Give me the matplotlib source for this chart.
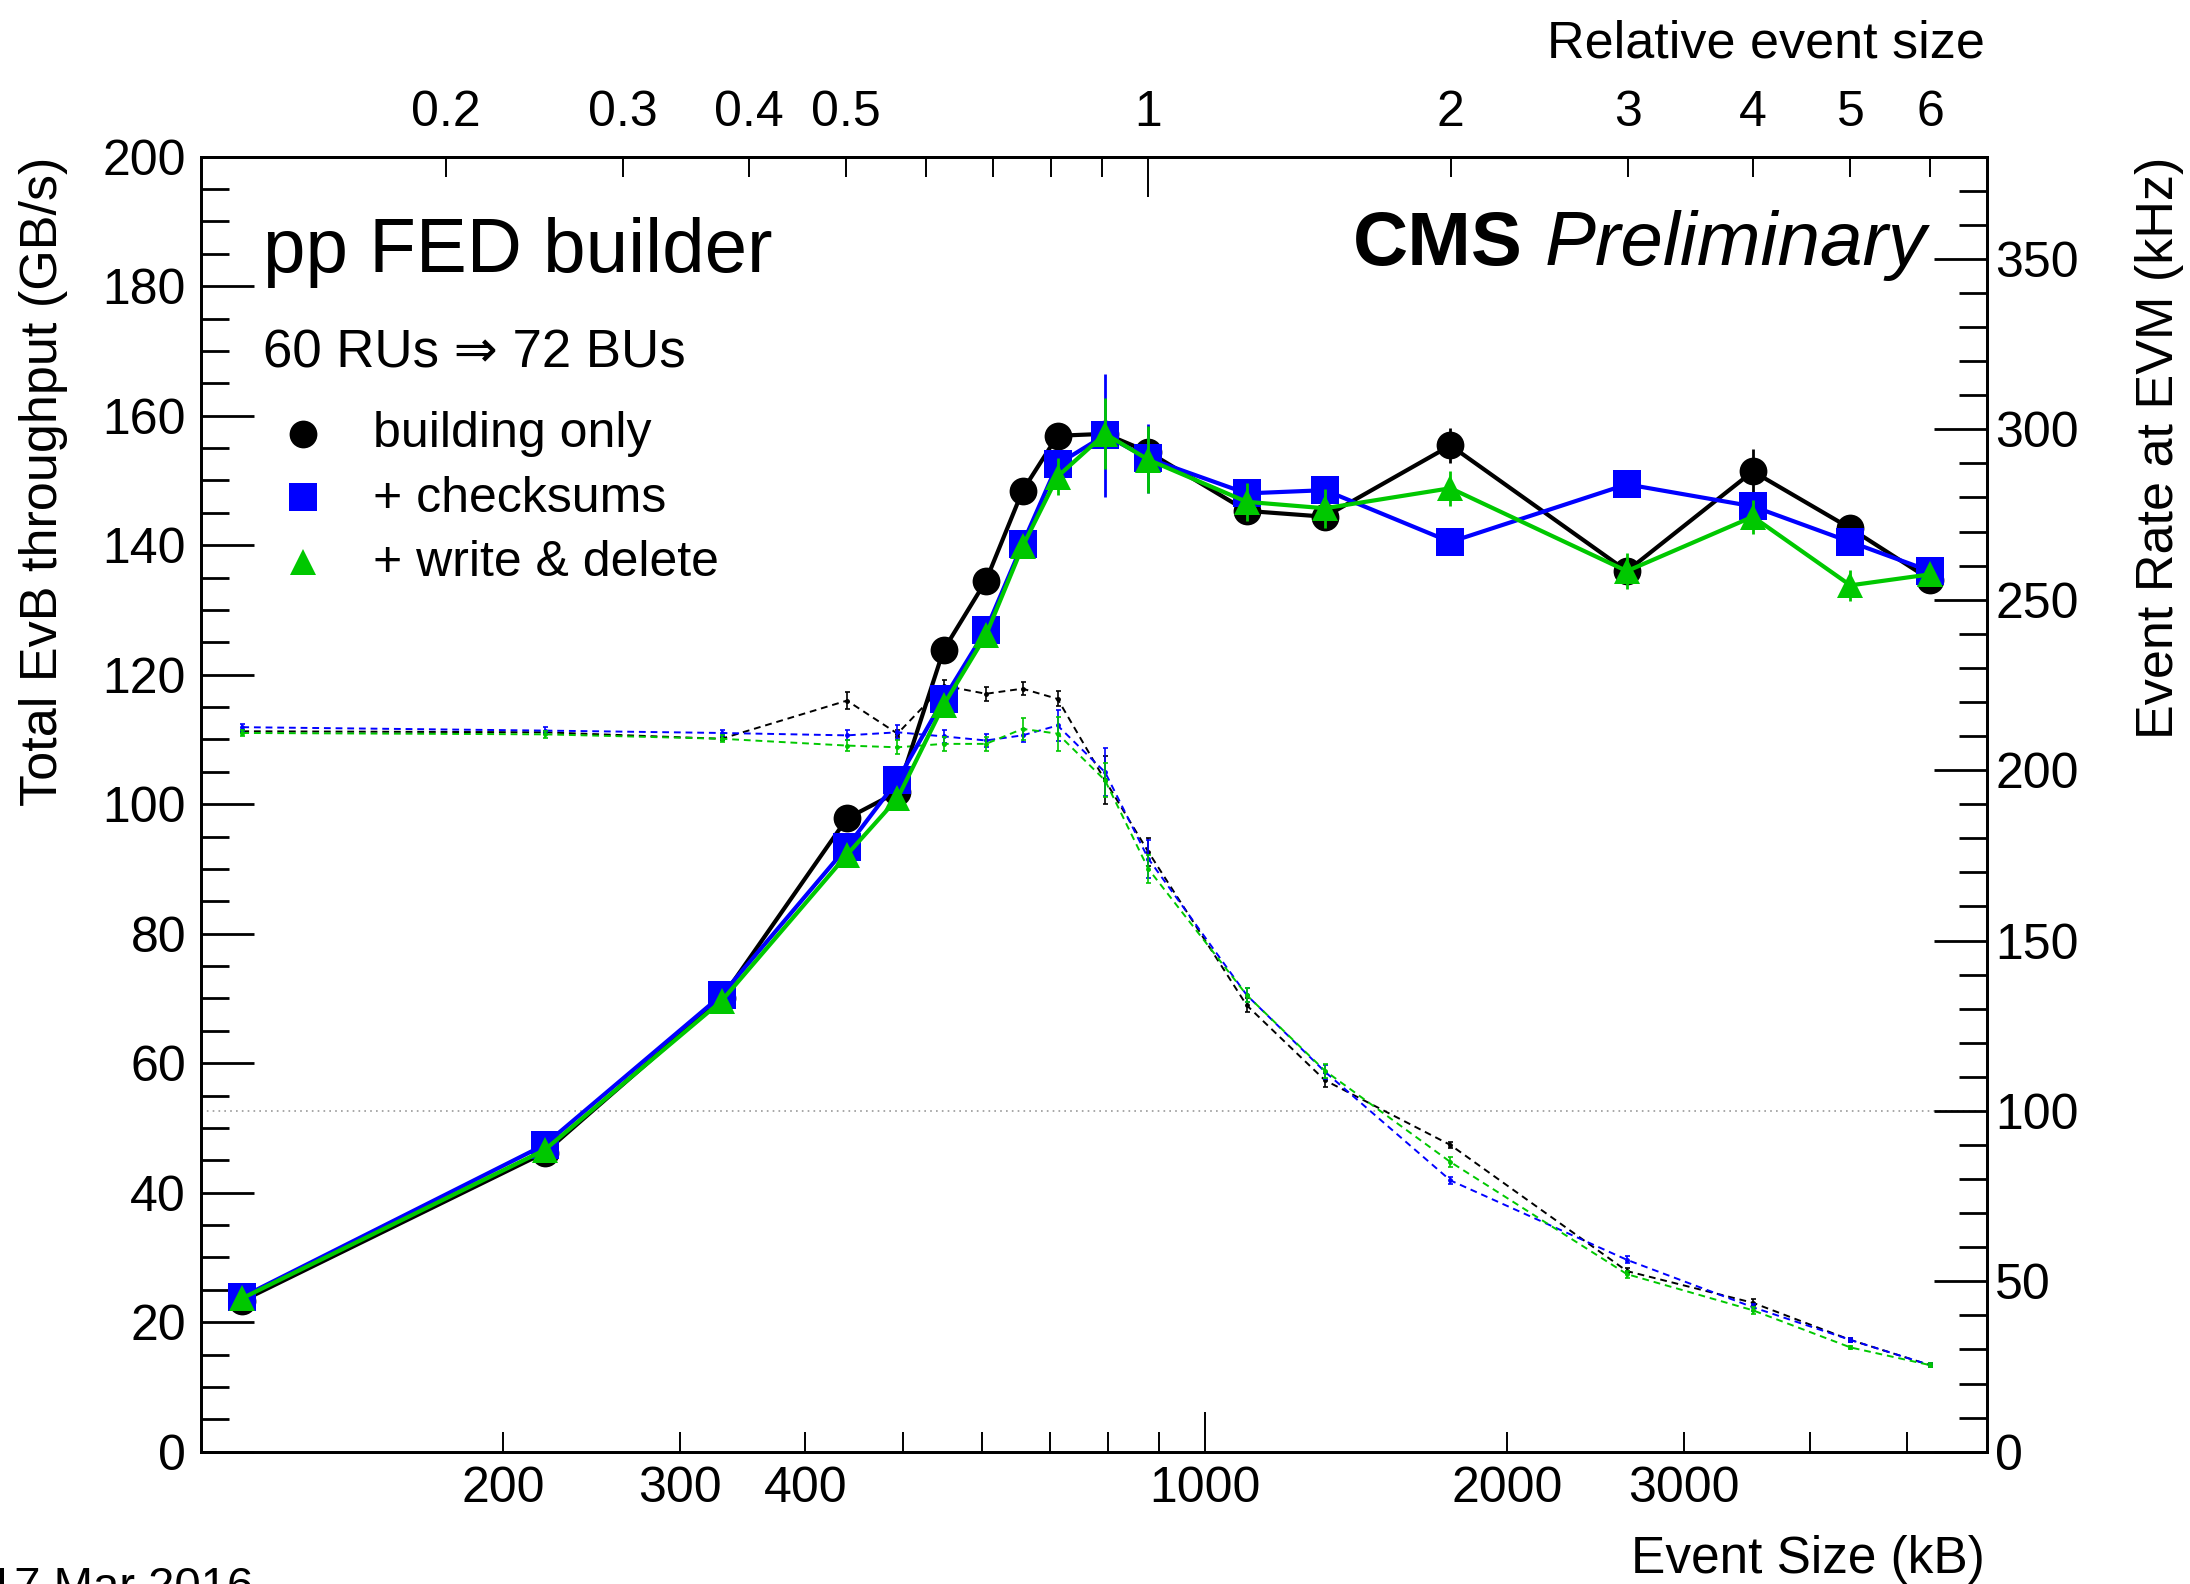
import matplotlib
matplotlib.use("Agg")
import matplotlib.pyplot as plt
from matplotlib.lines import Line2D
from matplotlib.ticker import FixedLocator, FuncFormatter, MultipleLocator

plt.rcParams['font.family'] = ['Liberation Sans', 'DejaVu Sans']

W, H = 2190, 1584  # output size in pixels

# ---- values ----
event_size = [110, 220, 330, 440, 494, 549, 605, 658, 713, 795, 878,
              1100, 1316, 1755, 2630, 3510, 4390, 5270]  # kB
ref_size = 878  # kB at relative event size 1

series_names = ["building only", "+ checksums", "+ write & delete"]
series_colors = ["black", "#0000ff", "#00c800"]
series_markers = ["o", "s", "^"]

# total EvB throughput (GB/s)
thr_build = [23.3, 46.2, 70.0, 97.8, 101.9, 123.8, 134.5, 148.4, 156.9, 157.2, 154.4,
             145.3, 144.4, 155.4, 136.0, 151.4, 142.6, 134.7]
thr_build_err = [0.3, 0.3, 0.3, 0.5, 0.5, 0.5, 0.5, 0.5, 0.5, 1.0, 4.0,
                 0.5, 0.5, 2.7, 1.0, 3.5, 0.8, 0.8]
thr_cksum = [23.9, 47.4, 70.5, 93.4, 103.7, 116.2, 126.9, 140.2, 152.5, 157.0, 153.4,
             148.0, 148.5, 140.5, 149.4, 146.0, 140.5, 136.0]
thr_cksum_err = [0.3, 0.3, 0.3, 0.5, 0.5, 0.5, 0.5, 0.5, 0.5, 9.5, 5.3,
                 0.8, 0.8, 0.8, 0.8, 0.8, 0.8, 0.8]
thr_write = [23.7, 46.6, 69.6, 92.2, 100.9, 115.3, 126.1, 139.8, 150.6, 157.2, 153.2,
             146.7, 145.7, 148.8, 136.0, 144.4, 133.8, 135.5]
thr_write_err = [0.3, 0.3, 0.3, 0.5, 0.5, 0.5, 0.5, 0.5, 2.8, 5.5, 5.2,
                 2.9, 3.0, 2.7, 2.8, 2.6, 2.4, 1.0]

# event rate at EVM (kHz)
rate_build = [211.4, 211.1, 209.2, 220.4, 210.7, 224.8, 222.4, 223.9, 220.9, 197.0, 176.0,
              131.0, 109.0, 90.0, 53.0, 43.7, 32.8, 25.4]
rate_build_err = [0.5, 0.5, 0.5, 2.5, 1.0, 1.7, 2.0, 2.0, 2.2, 7.0, 4.0,
                  2.0, 2.0, 1.0, 1.0, 1.0, 0.5, 0.5]
rate_cksum = [212.6, 211.6, 210.9, 210.2, 211.1, 209.9, 208.7, 210.2, 213.1, 199.4, 174.0,
              134.0, 111.5, 79.6, 56.3, 42.4, 32.8, 25.4]
rate_cksum_err = [1.0, 1.0, 1.0, 1.5, 2.0, 2.0, 2.0, 2.0, 4.6, 7.0, 5.6,
                  2.0, 2.0, 1.0, 1.0, 1.0, 0.5, 0.5]
rate_write = [210.9, 210.5, 209.2, 207.2, 206.7, 207.7, 207.7, 212.1, 210.7, 197.0, 171.0,
              134.0, 111.8, 85.0, 52.1, 41.5, 30.6, 25.4]
rate_write_err = [1.0, 1.0, 1.0, 1.5, 2.0, 2.0, 2.0, 3.2, 5.0, 5.0, 4.0,
                  2.0, 2.0, 1.5, 1.0, 1.0, 0.5, 0.5]

rate_line = 100  # kHz reference line

bottom_labeled = [200, 300, 400, 2000, 3000]
bottom_minor = [200, 300, 400, 500, 600, 700, 800, 900, 2000, 3000, 4000, 5000]
top_labeled = [0.2, 0.3, 0.4, 0.5, 2, 3, 4, 5, 6]
top_minor = [0.2, 0.3, 0.4, 0.5, 0.6, 0.7, 0.8, 0.9, 2, 3, 4, 5, 6]


def fx(px):  # pixel -> figure fraction
    return px / W


def fy(py):
    return 1 - py / H


fig = plt.figure(figsize=(W / 100, H / 100), dpi=100)
ax = fig.add_axes([fx(200.7), fy(1451.7), fx(1986.7) - fx(200.7), fy(156.7) - fy(1451.7)])
ax_r = ax.twinx()
ax.set_zorder(ax_r.get_zorder() + 1)  # throughput curves on top of the rate curves
ax.patch.set_visible(False)

thr = [(thr_build, thr_build_err), (thr_cksum, thr_cksum_err), (thr_write, thr_write_err)]
rate = [(rate_build, rate_build_err), (rate_cksum, rate_cksum_err), (rate_write, rate_write_err)]

for i in range(3):
    c = series_colors[i]
    # event rate, dashed
    ax_r.errorbar(event_size, rate[i][0], yerr=rate[i][1], color=c, lw=1.4, dashes=(3.5, 2.5),
                  marker='o', ms=2.5, mec=c, elinewidth=1.2, capsize=1.8, capthick=1.2, zorder=2 + i)
    # throughput, solid with markers
    ms = 19 if series_markers[i] == '^' else 20
    ax.errorbar(event_size, thr[i][0], yerr=thr[i][1], color=c, lw=3, marker=series_markers[i],
                ms=ms, mew=0, elinewidth=2, capsize=4, capthick=2.2, zorder=3 + i)

ax_r.axhline(rate_line, color='#999999', ls=(0, (1, 2.5)), lw=1.2, zorder=1)

# main x axis (log)
ax.set_xscale('log')
ax.set_xlim(100, 6000)
ax.set_ylim(0, 200)
ax_r.set_ylim(0, 380)

ax.xaxis.set_major_locator(FixedLocator([1000]))
ax.xaxis.set_minor_locator(FixedLocator(bottom_minor))
ax.xaxis.set_major_formatter(FuncFormatter(lambda v, p: '%d' % v))
ax.xaxis.set_minor_formatter(FuncFormatter(lambda v, p: ('%d' % v) if round(v) in bottom_labeled else ''))

ax.yaxis.set_major_locator(MultipleLocator(20))
ax.yaxis.set_minor_locator(MultipleLocator(5))
ax_r.yaxis.set_major_locator(MultipleLocator(50))
ax_r.yaxis.set_minor_locator(MultipleLocator(10))

ax.tick_params(axis='both', which='both', direction='in', top=False, right=False, labelsize=36)
ax.tick_params(axis='y', which='major', length=38.5, width=2, pad=10.5)
ax.tick_params(axis='y', which='minor', length=20, width=2)
ax.tick_params(axis='x', which='major', length=28.5, width=1.4, pad=10.5)
ax.tick_params(axis='x', which='minor', length=14.5, width=1.4, pad=10.5)
ax_r.tick_params(axis='y', which='both', direction='in', labelsize=36, width=2, pad=6)
ax_r.tick_params(axis='y', which='major', length=38.5)
ax_r.tick_params(axis='y', which='minor', length=20)

# relative event size on top
sec = ax.secondary_xaxis('top', functions=(lambda x: x / ref_size, lambda r: r * ref_size))
sec.xaxis.set_major_locator(FixedLocator([1]))
sec.xaxis.set_minor_locator(FixedLocator(top_minor))
sec.xaxis.set_major_formatter(FuncFormatter(lambda v, p: '%g' % v))
sec.xaxis.set_minor_formatter(FuncFormatter(
    lambda v, p: ('%g' % round(v, 2)) if any(abs(v - t) < 1e-6 for t in top_labeled) else ''))
sec.tick_params(axis='x', which='both', direction='in', labelsize=36, pad=15, width=1.4)
sec.tick_params(axis='x', which='major', length=28.5)
sec.tick_params(axis='x', which='minor', length=14.5)

for a in (ax, ax_r):
    for s in a.spines.values():
        s.set_linewidth(2)
sec.spines['top'].set_linewidth(2)

# axis titles
fig.text(fx(44), fy(157), "Total EvB throughput (GB/s)", rotation=90, ha='center', va='top', size=37.5)
fig.text(fx(2159), fy(157), "Event Rate at EVM (kHz)", rotation=90, ha='center', va='top', size=37.5)
fig.text(fx(1985), fy(1573), "Event Size (kB)", ha='right', va='baseline', size=37)
fig.text(fx(1985), fy(58), "Relative event size", ha='right', va='baseline', size=37.5)

# labels inside the frame
fig.text(fx(263), fy(272), "pp FED builder", size=55, va='baseline')
fig.text(fx(263), fy(368), "60 RUs \u21d2 72 BUs", size=38, va='baseline')

fig.canvas.draw()
rend = fig.canvas.get_renderer()
prel = fig.text(fx(1927), fy(265), "Preliminary", style='italic', size=55, ha='right', va='baseline')
bb = prel.get_window_extent(renderer=rend)
fig.text(fx(bb.x0 - 22), fy(265), "CMS", weight='bold', size=55, ha='right', va='baseline')

# legend drawn by hand
leg_marker_y = [434, 497, 562]
leg_text_y = [447, 512, 576]
for i in range(3):
    ms = 19 if series_markers[i] == '^' else 20
    fig.add_artist(Line2D([fx(303)], [fy(leg_marker_y[i])], transform=fig.transFigure, ls='none',
                          marker=series_markers[i], ms=ms, mew=0, color=series_colors[i]))
    fig.text(fx(373), fy(leg_text_y[i]), series_names[i], size=36, va='baseline')

# date stamp, cut by the lower edge as in the original
fig.text(fx(-12), fy(1566), "17 Mar 2016", size=34, va='top', ha='left')

fig.savefig("out.png", dpi=100)
